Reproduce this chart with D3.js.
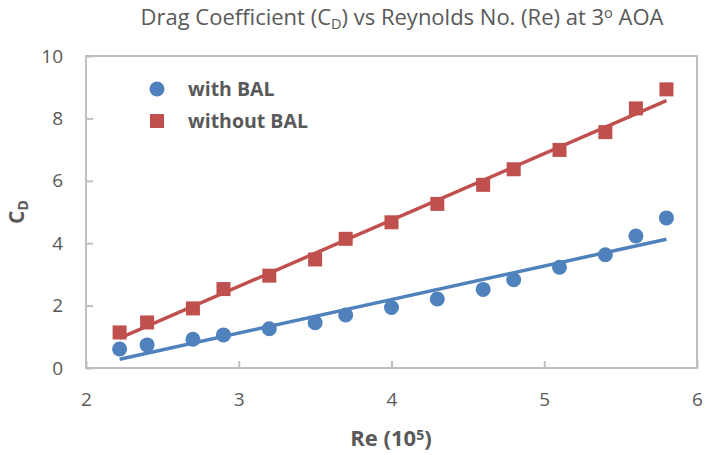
<html>
<head>
    <script src="https://d3js.org/d3.v7.min.js"></script>
    <style>
        body { margin: 0; background: #fff; }
        text { font-family: "Open Sans", Lato, sans-serif; fill: #595959; }
    </style>
</head>
<body>
    <svg id="chart"></svg>
    <script>
        // values
        var reValues = [2.22, 2.4, 2.7, 2.9, 3.2, 3.5, 3.7, 4.0, 4.3, 4.6, 4.8, 5.1, 5.4, 5.6, 5.8];
        var withBAL = [0.61, 0.74, 0.92, 1.06, 1.26, 1.45, 1.70, 1.94, 2.21, 2.52, 2.83, 3.23, 3.63, 4.23, 4.81];
        var withoutBAL = [1.14, 1.46, 1.91, 2.53, 2.96, 3.48, 4.14, 4.67, 5.26, 5.87, 6.37, 6.99, 7.56, 8.32, 8.93];
        var xTicks = [2, 3, 4, 5, 6];
        var yTicks = [0, 2, 4, 6, 8, 10];

        var width = 705, height = 455;
        var pLeft = 86, pRight = 697, pTop = 56, pBottom = 368;
        var blue = "#4F81BD", red = "#C0504D", frame = "#BFBFBF";

        var svg = d3.select("#chart").attr("width", width).attr("height", height);

        var x = d3.scaleLinear().domain([2, 6]).range([pLeft, pRight]);
        var y = d3.scaleLinear().domain([0, 10]).range([pBottom, pTop]);

        // plot area frame
        svg.append("rect")
            .attr("x", pLeft).attr("y", pTop)
            .attr("width", pRight - pLeft).attr("height", pBottom - pTop)
            .attr("fill", "none").attr("stroke", frame).attr("stroke-width", 2);

        var xAxis = svg.append("g")
            .attr("transform", "translate(0," + pBottom + ")")
            .call(d3.axisBottom(x).tickValues(xTicks).tickFormat(d3.format("d"))
                .tickSizeInner(-7).tickSizeOuter(0).tickPadding(25));
        var yAxis = svg.append("g")
            .attr("transform", "translate(" + pLeft + ",0)")
            .call(d3.axisLeft(y).tickValues(yTicks).tickFormat(d3.format("d"))
                .tickSizeInner(-7).tickSizeOuter(0).tickPadding(23));
        [xAxis, yAxis].forEach(function (g) {
            g.select(".domain").remove();
            g.selectAll("line").attr("stroke", frame).attr("stroke-width", 2);
            g.selectAll("text").attr("font-family", null).style("font-size", "19px").attr("fill", "#595959");
        });

        // least squares trend lines, as in the spreadsheet
        function trend(xs, ys) {
            var mx = d3.mean(xs), my = d3.mean(ys);
            var num = d3.sum(xs, function (v, i) { return (v - mx) * (ys[i] - my); });
            var den = d3.sum(xs, function (v) { return (v - mx) * (v - mx); });
            var b = num / den, a = my - b * mx;
            var ext = d3.extent(xs);
            return ext.map(function (v) { return [v, a + b * v]; });
        }
        var line = d3.line().x(function (d) { return x(d[0]); }).y(function (d) { return y(d[1]); });

        svg.append("path").datum(trend(reValues, withBAL))
            .attr("d", line).attr("stroke", blue).attr("stroke-width", 3.5).attr("fill", "none");
        svg.append("path").datum(trend(reValues, withoutBAL))
            .attr("d", line).attr("stroke", red).attr("stroke-width", 3.5).attr("fill", "none");

        svg.append("g").selectAll("circle")
            .data(withBAL)
            .enter()
            .append("circle")
            .attr("cx", function (d, i) { return x(reValues[i]); })
            .attr("cy", function (d) { return y(d); })
            .attr("r", 7.5)
            .attr("fill", blue);

        var sq = 14;
        svg.append("g").selectAll("rect")
            .data(withoutBAL)
            .enter()
            .append("rect")
            .attr("x", function (d, i) { return x(reValues[i]) - sq / 2; })
            .attr("y", function (d) { return y(d) - sq / 2; })
            .attr("width", sq).attr("height", sq)
            .attr("fill", red);

        // legend
        var legend = svg.append("g");
        legend.append("circle").attr("cx", 157).attr("cy", 89).attr("r", 7.5).attr("fill", blue);
        legend.append("rect").attr("x", 150).attr("y", 114).attr("width", sq).attr("height", sq).attr("fill", red);
        legend.append("text").attr("x", 188).attr("y", 96).style("font-size", "19.5px").style("font-weight", "bold").text("with BAL");
        legend.append("text").attr("x", 188).attr("y", 128).style("font-size", "19.5px").style("font-weight", "bold").text("without BAL");

        // title
        var title = svg.append("text").attr("x", 402).attr("y", 25).attr("text-anchor", "middle").style("font-size", "22px");
        title.append("tspan").text("Drag Coefficient (C");
        title.append("tspan").attr("baseline-shift", "-25%").style("font-size", "14.5px").text("D");
        title.append("tspan").attr("baseline-shift", "0").text(") vs Reynolds No. (Re) at 3");
        title.append("tspan").attr("baseline-shift", "45%").style("font-size", "14.5px").text("o");
        title.append("tspan").attr("baseline-shift", "0").text(" AOA");

        // axis titles
        var xt = svg.append("text").attr("x", 391).attr("y", 446).attr("text-anchor", "middle")
            .style("font-size", "22px").style("font-weight", "bold");
        xt.append("tspan").text("Re (10");
        xt.append("tspan").attr("baseline-shift", "45%").style("font-size", "14px").text("5");
        xt.append("tspan").attr("baseline-shift", "0").text(")");

        var yt = svg.append("text").attr("transform", "translate(24,212) rotate(-90)").attr("text-anchor", "middle")
            .style("font-size", "21px").style("font-weight", "bold");
        yt.append("tspan").text("C");
        yt.append("tspan").attr("baseline-shift", "-25%").style("font-size", "14px").text("D");
    </script>
</body>
</html>
